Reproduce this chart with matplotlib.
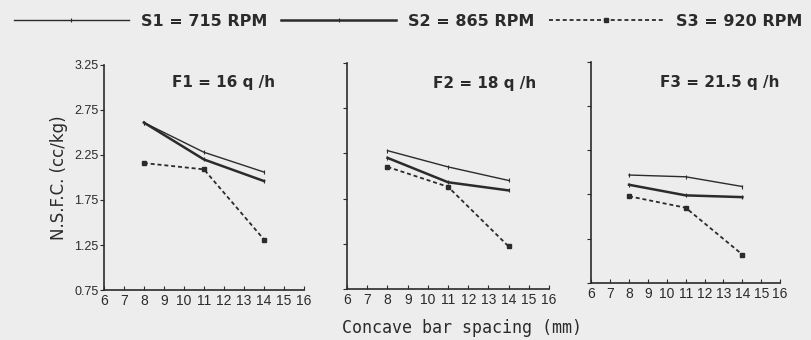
import matplotlib
matplotlib.use("Agg")
import matplotlib.pyplot as plt

# concave bar spacing (mm)
spacing = [8, 11, 14]

# N.S.F.C. (cc/kg) per feed rate, per cylinder speed
f1_s1 = [2.61, 2.28, 2.06]
f1_s2 = [2.61, 2.20, 1.96]
f1_s3 = [2.16, 2.09, 1.31]

f2_s1 = [2.28, 2.10, 1.95]
f2_s2 = [2.20, 1.93, 1.84]
f2_s3 = [2.10, 1.88, 1.22]

f3_s1 = [1.97, 1.95, 1.84]
f3_s2 = [1.86, 1.74, 1.72]
f3_s3 = [1.73, 1.60, 1.07]

panel_titles = ["F1 = 16 q /h", "F2 = 18 q /h", "F3 = 21.5 q /h"]
speed_labels = ["S1 = 715 RPM", "S2 = 865 RPM", "S3 = 920 RPM"]
yticks = [0.75, 1.25, 1.75, 2.25, 2.75, 3.25]
xticks = list(range(6, 17))

panels = [
    (f1_s1, f1_s2, f1_s3),
    (f2_s1, f2_s2, f2_s3),
    (f3_s1, f3_s2, f3_s3),
]

bg = "#ededed"
ink = "#2b2b2b"
tick_font = ["Liberation Sans", "DejaVu Sans"]

fig = plt.figure(figsize=(8.11, 3.4), dpi=100, facecolor=bg)

boxes = [
    [0.128, 0.147, 0.247, 0.662],
    [0.428, 0.150, 0.249, 0.665],
    [0.729, 0.168, 0.233, 0.650],
]
title_pos = [(0.60, 0.92), (0.68, 0.91), (0.68, 0.905)]

handles = []
for i, (box, series) in enumerate(zip(boxes, panels)):
    ax = fig.add_axes(box)
    ax.set_facecolor(bg)
    s1, s2, s3 = series
    h1, = ax.plot(spacing, s1, color=ink, lw=1.0, marker="|", ms=3, mew=0.8)
    h2, = ax.plot(spacing, s2, color=ink, lw=1.8, marker="|", ms=3, mew=0.8)
    h3, = ax.plot(spacing, s3, color=ink, lw=1.3, ls=(0, (2.2, 1.6)),
                  marker="s", ms=3.5)
    if i == 0:
        handles = [h1, h2, h3]

    ax.set_xlim(6, 16)
    ax.set_ylim(0.75, 3.25)
    ax.set_xticks(xticks)
    ax.set_yticks(yticks)
    for side in ["top", "right"]:
        ax.spines[side].set_visible(False)
    for side in ["left", "bottom"]:
        ax.spines[side].set_color(ink)
        ax.spines[side].set_linewidth(1.2)
    ax.tick_params(axis="x", direction="in", length=3, width=0.8, colors=ink,
                   labelsize=10, pad=3)
    ax.tick_params(axis="y", direction="out", length=3, width=0.8, colors=ink,
                   labelsize=9, pad=1)
    for lab in ax.get_xticklabels() + ax.get_yticklabels():
        lab.set_family(tick_font)
    if i == 0:
        ax.set_yticklabels([f"{v:.2f}" for v in yticks])
        ax.set_ylabel("N.S.F.C. (cc/kg)", fontsize=12, color=ink,
                      family="DejaVu Sans", labelpad=4)
    else:
        ax.set_yticklabels([])
    tx, ty = title_pos[i]
    ax.text(tx, ty, panel_titles[i], transform=ax.transAxes, ha="center",
            va="center", fontsize=11, fontweight="bold", color=ink)

fig.text(0.57, 0.035, "Concave bar spacing (mm)", ha="center", va="center",
         fontsize=12, color=ink, family="DejaVu Sans Mono")

leg = fig.legend(handles, speed_labels, loc="center", ncol=3,
                 bbox_to_anchor=(0.503, 0.937), frameon=False,
                 handlelength=7.2, handletextpad=0.75, columnspacing=0.9,
                 prop={"size": 11.5, "weight": "bold"})
for t in leg.get_texts():
    t.set_color(ink)

fig.savefig("out.png", dpi=100, facecolor=bg)
